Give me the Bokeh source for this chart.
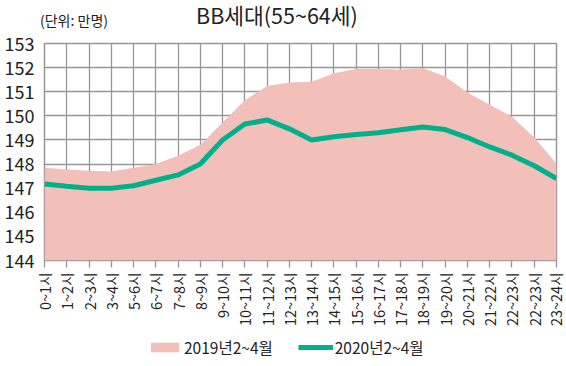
from bokeh.plotting import figure
from bokeh.layouts import column
from bokeh.models import FixedTicker, Range1d, Legend, LegendItem
from bokeh.embed import file_html
from bokeh.resources import INLINE

hours = ["0~1시", "1~2시", "2~3시", "3~4시", "5~6시", "6~7시", "7~8시", "8~9시",
         "9~10시", "10~11시", "11~12시", "12~13시", "13~14시", "14~15시", "15~16시",
         "16~17시", "17~18시", "18~19시", "19~20시", "20~21시", "21~22시", "22~23시",
         "22~23시", "23~24시"]
y2019 = [147.85, 147.77, 147.72, 147.69, 147.85, 148.0, 148.34, 148.8, 149.72, 150.65,
         151.24, 151.38, 151.41, 151.77, 151.94, 151.94, 151.92, 151.98, 151.63, 150.97,
         150.46, 149.96, 149.1, 148.02]
y2020 = [147.17, 147.08, 147.0, 147.0, 147.1, 147.33, 147.55, 148.0, 149.0, 149.66,
         149.83, 149.46, 149.0, 149.13, 149.23, 149.3, 149.42, 149.54, 149.43, 149.1,
         148.71, 148.37, 147.93, 147.4]
yticks = [144, 145, 146, 147, 148, 149, 150, 151, 152, 153]
series_names = ["2019년2~4월", "2020년2~4월"]
title_text = "BB세대(55~64세)"
unit_text = "(단위: 만명)"

FONT = "Noto Sans CJK KR"
PINK = "#f2c0b8"
GREEN = "#00b08c"
GRID = "#969696"
TXT = "#222222"
xs = list(range(len(hours)))


def strip(h):
    # a plain panel: its data range lies far from the data, so its renderers stay unseen
    f = figure(frame_width=566, frame_height=h, output_backend="svg", toolbar_location=None,
               x_axis_type=None, y_axis_type=None, min_border=0,
               x_range=Range1d(-100, -99), y_range=Range1d(0, 1))
    f.outline_line_color = None
    f.xgrid.visible = False
    f.ygrid.visible = False
    f.background_fill_color = "white"
    f.border_fill_color = "white"
    return f


def text_legend(renderer, text, size, loc, h):
    return Legend(items=[LegendItem(label=text, renderers=[renderer])],
                  location=loc, label_text_font=FONT, label_text_font_size=size,
                  label_text_color=TXT, glyph_width=0, glyph_height=h, label_height=h,
                  label_standoff=0, padding=0, margin=0, border_line_color=None,
                  background_fill_alpha=0)


# header: title and unit
head = strip(30)
hid = head.line(x=xs, y=y2020, line_alpha=0)
head.add_layout(text_legend(hid, title_text, "21.5px", (196, 0), 30), "center")
head.add_layout(text_legend(hid, unit_text, "14px", (40, 0), 16), "center")

# main chart
p = figure(frame_width=512, frame_height=217, output_backend="svg", toolbar_location=None,
           x_range=Range1d(0, len(hours) - 1), y_range=Range1d(yticks[0], yticks[-1]),
           min_border_left=44, min_border_right=10, min_border_top=13, min_border_bottom=75)
p.background_fill_color = "white"
p.border_fill_color = "white"
p.outline_line_color = GRID
p.outline_line_width = 1.5

p.varea(x=xs, y1=[yticks[0]] * len(xs), y2=y2019, fill_color=PINK)
p.line(x=xs, y=y2020, line_color=GREEN, line_width=5)

p.xaxis.ticker = FixedTicker(ticks=xs)
p.xaxis.major_label_overrides = {i: h for i, h in enumerate(hours)}
p.xaxis.major_label_orientation = 1.5708
p.xaxis.major_label_text_font = FONT
p.xaxis.major_label_text_font_size = "14.5px"
p.xaxis.major_label_text_color = TXT
p.xaxis.axis_line_color = None
p.xaxis.major_tick_line_color = GRID
p.xaxis.major_tick_line_width = 1.3
p.xaxis.major_tick_out = 7
p.xaxis.major_tick_in = 0
p.xaxis.minor_tick_line_color = None
p.xaxis.major_label_standoff = 5

p.yaxis.ticker = FixedTicker(ticks=yticks)
p.yaxis.major_label_text_font = FONT
p.yaxis.major_label_text_font_size = "18px"
p.yaxis.major_label_text_color = TXT
p.yaxis.axis_line_color = None
p.yaxis.major_tick_line_color = None
p.yaxis.minor_tick_line_color = None
p.yaxis.major_label_standoff = 4

p.xgrid.ticker = FixedTicker(ticks=xs)
p.xgrid.grid_line_color = GRID
p.xgrid.grid_line_width = 1.3
p.ygrid.grid_line_color = GRID
p.ygrid.grid_line_width = 1.3

# footer: legend
foot = strip(31)
ra = foot.varea(x=xs, y1=[yticks[0]] * len(xs), y2=y2019, fill_color=PINK)
rl = foot.line(x=xs, y=y2020, line_color=GREEN, line_width=5)
legend = Legend(items=[LegendItem(label=series_names[0], renderers=[ra]),
                       LegendItem(label=series_names[1], renderers=[rl])],
                orientation="horizontal", location=(147, 8),
                label_text_font=FONT, label_text_font_size="15.5px",
                label_text_color=TXT, glyph_width=35, glyph_height=12,
                spacing=25, border_line_color=None, background_fill_alpha=0,
                label_standoff=2, padding=0, margin=0)
foot.add_layout(legend, "center")

layout = column(head, p, foot, spacing=0)
open("out.html", "w").write(file_html(layout, INLINE))
